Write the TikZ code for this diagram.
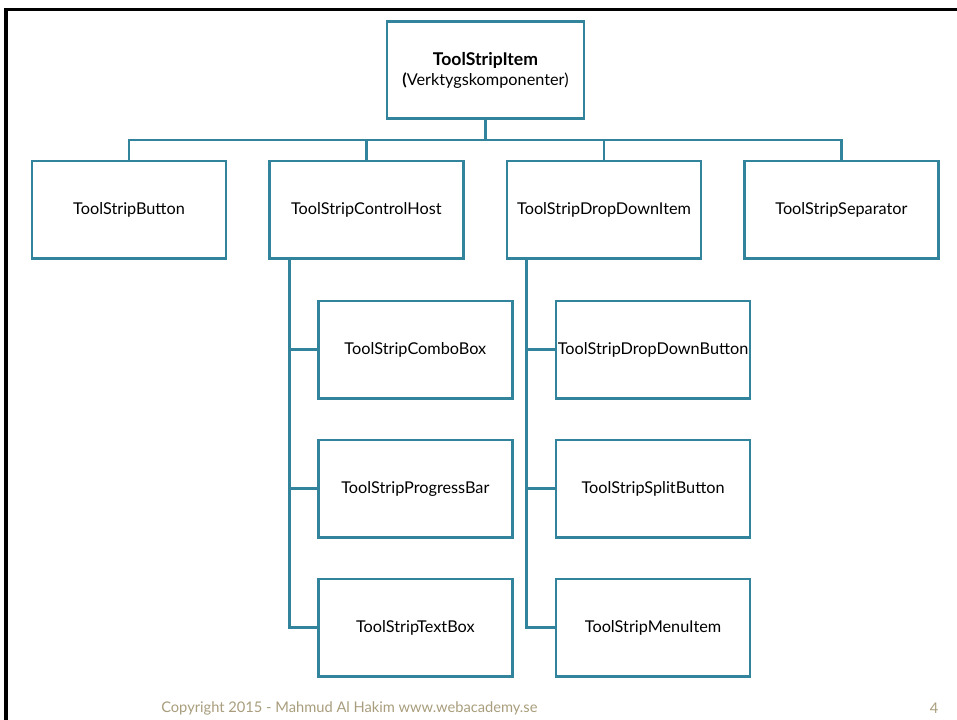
\documentclass[tikz,border=0pt]{standalone}
\usepackage{fontspec}
\setmainfont{Lato}
\usepackage{tikz}
\usetikzlibrary{positioning}

\definecolor{teal}{HTML}{31849B}
\definecolor{tan}{HTML}{A89D7C}

\begin{document}
\begin{tikzpicture}[
        box/.style={rectangle, draw=teal, line width=1.9pt, outer sep=0pt, fill=white, minimum width=145.5pt, minimum height=73pt, inner sep=0pt, align=center, font=\fontsize{12.2}{15}\selectfont},
        link/.style={draw=teal, line width=1.9pt},
        footer/.style={inner sep=0pt, text=tan, font=\fontsize{11}{13}\selectfont}]

        \useasboundingbox (0pt,0pt) rectangle (717.75pt,-540pt);

        %Frame
        \draw[line width=2.3pt] (717.75pt,-7.1pt) -- (4.5pt,-7.1pt) -- (4.5pt,-540pt);

        %Nodes
        \node[box, minimum width=148pt]  (root) at (364.1pt,-52.5pt) {{\fontsize{13.2}{15}\selectfont\textbf{ToolStripItem}}\\\textbf{(}Verktygskomponenter)};
        \node[box]  (host) [below left=31.7pt and 16.6pt of root.south] {ToolStripControlHost};
        \node[box]  (dropitem) [below right=31.7pt and 16.2pt of root.south] {ToolStripDropDownItem};
        \node[box]  (button) [left=32.5pt of host] {ToolStripButton};
        \node[box]  (separator) [right=32.5pt of dropitem] {ToolStripSeparator};

        \node[box]  (combo) [below right=32pt and 36.75pt of host.south west] {ToolStripComboBox};
        \node[box]  (progress) [below=31.25pt of combo] {ToolStripProgressBar};
        \node[box]  (textbox) [below=31.25pt of progress] {ToolStripTextBox};

        \node[box]  (ddbutton) [below right=32pt and 36.75pt of dropitem.south west] {ToolStripDropDownButton};
        \node[box]  (split) [below=31.25pt of ddbutton] {ToolStripSplitButton};
        \node[box]  (menuitem) [below=31.25pt of split] {ToolStripMenuItem};

        \node[footer]  (copy) at (262pt,-531pt) {Copyright 2015 - Mahmud Al Hakim www.webacademy.se};
        \node[footer]  (page) at (700.5pt,-531pt) {4};

        %Lines
        \draw[link] (root.south) -- ++(0,-16pt) -| (button.north);
        \draw[link] (root.south) -- ++(0,-16pt) -| (host.north);
        \draw[link] (root.south) -- ++(0,-16pt) -| (dropitem.north);
        \draw[link] (root.south) -- ++(0,-16pt) -| (separator.north);

        \draw[link] ([xshift=15pt]host.south west) |- (combo.west);
        \draw[link] ([xshift=15pt]host.south west) |- (progress.west);
        \draw[link] ([xshift=15pt]host.south west) |- (textbox.west);

        \draw[link] ([xshift=14.5pt]dropitem.south west) |- (ddbutton.west);
        \draw[link] ([xshift=14.5pt]dropitem.south west) |- (split.west);
        \draw[link] ([xshift=14.5pt]dropitem.south west) |- (menuitem.west);

    \end{tikzpicture}
\end{document}
